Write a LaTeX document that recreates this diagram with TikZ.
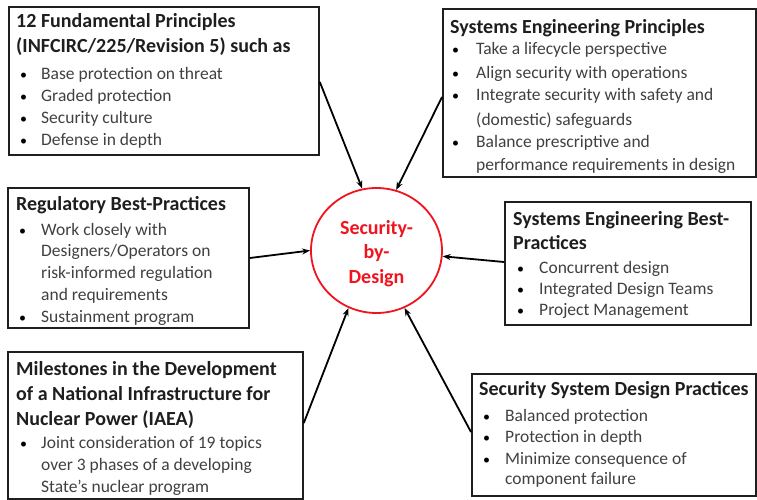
\documentclass[tikz,border=0pt]{standalone}
\usepackage{fontspec}
\setmainfont{Carlito}
\usetikzlibrary{shapes.geometric,arrows.meta}
\definecolor{txt}{RGB}{64,64,64}
\definecolor{hdc}{RGB}{30,30,30}
\definecolor{sbd}{RGB}{240,20,30}
\begin{document}
\begin{tikzpicture}[x=1pt,y=-1pt,
 box/.style={draw=black!88,line width=1.8pt,rectangle,inner sep=0,anchor=north west},
 hd/.style={anchor=base west,inner sep=0,font=\fontsize{20}{24}\selectfont\bfseries,text=hdc,yshift=-2pt},
 itm/.style={anchor=base west,inner sep=0,font=\fontsize{17.5}{21}\selectfont,text=txt,yshift=-2pt},
 dot/.style={anchor=base west,inner sep=0,font=\fontsize{14}{16}\selectfont,text=black,yshift=-2pt},
 arr/.style={line width=1.8pt,-{Stealth[length=8pt,width=6pt]}}]
\useasboundingbox (0,0) rectangle (757,500);

% boxes
\node[box,minimum width=310pt,minimum height=148pt] (b1) at (8,6) {};
\node[box,minimum width=313pt,minimum height=168pt] (b2) at (442,8) {};
\node[box,minimum width=241pt,minimum height=140pt] (b3) at (7,187) {};
\node[box,minimum width=246pt,minimum height=123pt] (b4) at (504,201) {};
\node[box,minimum width=295pt,minimum height=147pt] (b5) at (7,351) {};
\node[box,minimum width=284pt,minimum height=122pt] (b6) at (471,373) {};

% centre
\node[draw=sbd,line width=1.8pt,ellipse,minimum width=131pt,minimum height=125pt,inner sep=0] (c) at (376.5,250.5) {};
\node[align=center,inner sep=0,text=sbd,font=\fontsize{20}{24.5}\selectfont\bfseries] (ct) at (376.5,253.5) {Security-\\by-\\Design};

% box 1
\node[hd] (h1a) at (16,26) {12 Fundamental Principles};
\node[hd] (h1b) at (16,51) {(INFCIRC/225/Revision 5) such as};
\foreach \yy/\txt [count=\i] in {78/Base protection on threat,100/Graded protection,122/Security culture,144/Defense in depth}{
  \node[dot] (d1\i) at (20,\yy) {\textbullet};
  \node[itm] (t1\i) at (41,\yy) {\txt};
}

% box 2
\node[hd] (h2a) at (450,32) {Systems Engineering Principles};
\foreach \yy [count=\i] in {53,77,99,145}{\node[dot] (d2\i) at (452,\yy) {\textbullet};}
\foreach \yy/\txt [count=\i] in {53/Take a lifecycle perspective,77/Align security with operations,99/Integrate security with safety and,123/(domestic) safeguards,145/Balance prescriptive and,168/performance requirements in design}{
  \node[itm] (t2\i) at (476,\yy) {\txt};
}

% box 3
\node[hd] (h3a) at (16,208) {Regulatory Best-Practices};
\foreach \yy [count=\i] in {233,320}{\node[dot] (d3\i) at (19,\yy) {\textbullet};}
\foreach \yy/\txt [count=\i] in {233/Work closely with,254/{Designers/Operators on},276/risk-informed regulation,298/and requirements,320/Sustainment program}{
  \node[itm] (t3\i) at (41,\yy) {\txt};
}

% box 4
\node[hd] (h4a) at (513,223) {Systems Engineering Best-};
\node[hd] (h4b) at (513,247) {Practices};
\foreach \yy/\txt [count=\i] in {271/Concurrent design,292/Integrated Design Teams,313/Project Management}{
  \node[dot] (d4\i) at (517,\yy) {\textbullet};
  \node[itm] (t4\i) at (539,\yy) {\txt};
}

% box 5
\node[hd] (h5a) at (16,373) {Milestones in the Development};
\node[hd] (h5b) at (16,398) {of a National Infrastructure for};
\node[hd] (h5c) at (16,423) {Nuclear Power (IAEA)};
\node[dot] (d51) at (20,446) {\textbullet};
\foreach \yy/\txt [count=\i] in {446/Joint consideration of 19 topics,468/over 3 phases of a developing,490/State’s nuclear program}{
  \node[itm] (t5\i) at (41,\yy) {\txt};
}

% box 6
\node[hd] (h6a) at (479,393) {Security System Design Practices};
\foreach \yy [count=\i] in {419,440,462}{\node[dot] (d6\i) at (483,\yy) {\textbullet};}
\foreach \yy/\txt [count=\i] in {419/Balanced protection,440/Protection in depth,462/Minimize consequence of,482/component failure}{
  \node[itm] (t6\i) at (505,\yy) {\txt};
}

% connectors
\coordinate (s1) at ([yshift=-76pt]b1.north east);
\coordinate (s2) at ([yshift=-89pt]b2.north west);
\coordinate (s3) at ([yshift=-71pt]b3.north east);
\coordinate (s4) at ([yshift=-61pt]b4.north west);
\coordinate (s5) at ([yshift=-72pt]b5.north east);
\coordinate (s6) at ([yshift=-59pt]b6.north west);
\draw[arr] (s1) -- (c.103);
\draw[arr] (s2) -- (c.72);
\draw[arr] (s3) -- (c.180);
\draw[arr] (s4) -- (c.355);
\draw[arr] (s5) -- (c.244);
\draw[arr] (s6) -- (c.296);
\end{tikzpicture}
\end{document}
